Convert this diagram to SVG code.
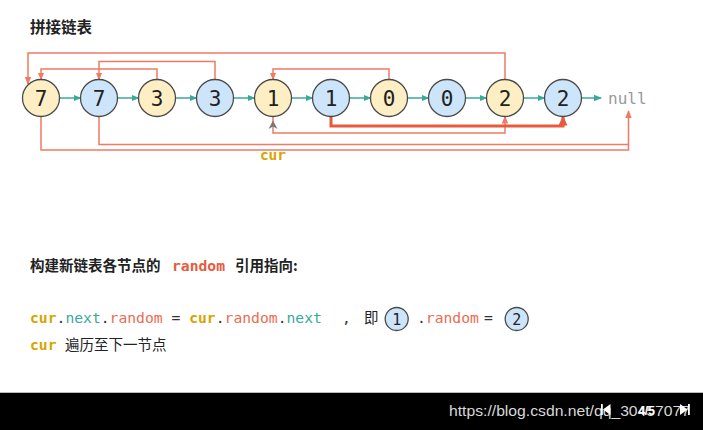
<svg xmlns="http://www.w3.org/2000/svg" width="703" height="430" viewBox="0 0 703 430">
<defs>
<style>
.nd{stroke:#4a4a4a;stroke-width:1.3}
.y{fill:#fdefc3}
.b{fill:#cde5fb}
.num{font-family:"DejaVu Sans Mono",monospace;font-size:21px;fill:#222;text-anchor:middle}
.nx{stroke:#3aa99a;stroke-width:1.5;fill:none;marker-end:url(#tealA)}
.rd{stroke:#f07a62;stroke-width:1.5;fill:none}
.rdt{stroke:#e85a3e;stroke-width:3;fill:none}
.cn{font-family:"Noto Sans CJK SC",sans-serif;font-size:14.5px;fill:#222}
.mono{font-family:"DejaVu Sans Mono",monospace;font-size:14.7px;fill:#333}
.gold{fill:#d9a400;font-weight:bold}
.teal{fill:#3aa99a}
.red{fill:#ec6b51}
</style>
<marker id="tealA" viewBox="0 0 8 8" refX="7" refY="4" markerWidth="8" markerHeight="8" markerUnits="userSpaceOnUse" orient="auto">
<path d="M0,0.8 L8,4 L0,7.2 Z" fill="#3aa99a"/>
</marker>
<marker id="redA" viewBox="0 0 8 8" refX="7" refY="4" markerWidth="8" markerHeight="8" markerUnits="userSpaceOnUse" orient="auto">
<path d="M0,0.8 L8,4 L0,7.2 Z" fill="#f07a62"/>
</marker>
<marker id="redT" viewBox="0 0 10 10" refX="9" refY="5" markerWidth="10" markerHeight="10" markerUnits="userSpaceOnUse" orient="auto">
<path d="M0,0.5 L10,5 L0,9.5 Z" fill="#e85a3e"/>
</marker>
</defs>
<rect width="703" height="430" fill="#fff"/>
<text x="30" y="33" font-family="'Noto Sans CJK SC',sans-serif" font-size="15.5" font-weight="bold" fill="#222">拼接链表</text>

<g id="connectors">
<line class="nx" x1="59.5" y1="98" x2="80.5" y2="98"/>
<line class="nx" x1="117.5" y1="98" x2="138.5" y2="98"/>
<line class="nx" x1="175.5" y1="98" x2="196.5" y2="98"/>
<line class="nx" x1="233.5" y1="98" x2="254.5" y2="98"/>
<line class="nx" x1="291.5" y1="98" x2="312.5" y2="98"/>
<line class="nx" x1="349.5" y1="98" x2="370.5" y2="98"/>
<line class="nx" x1="407.5" y1="98" x2="428.5" y2="98"/>
<line class="nx" x1="465.5" y1="98" x2="486.5" y2="98"/>
<line class="nx" x1="523.5" y1="98" x2="544.5" y2="98"/>
<line class="nx" x1="581.5" y1="98" x2="601" y2="98"/>
<path class="rd" d="M505,79.5 V53 H28 V84" marker-end="url(#redA)"/>
<path class="rd" d="M215,79.5 V61.5 H99 V79.5" marker-end="url(#redA)"/>
<path class="rd" d="M157,79.5 V69 H41 V79.5" marker-end="url(#redA)"/>
<path class="rd" d="M389,79.5 V69 H273 V79.5" marker-end="url(#redA)"/>
<path class="rd" d="M41,116.5 V150 H628.5 V111" marker-end="url(#redA)"/>
<path class="rd" d="M99,116.5 V144.5 H628.5"/>
<path class="rd" d="M273,116.5 V133 H505 V116.5" marker-end="url(#redA)"/>
<path class="rdt" d="M331,116.5 V126 H563 V116.5" marker-end="url(#redT)"/>
</g>

<g id="n0"><circle class="nd y" cx="41" cy="98" r="18.5"/><text class="num" x="41" y="105.5">7</text></g>
<g id="n1"><circle class="nd b" cx="99" cy="98" r="18.5"/><text class="num" x="99" y="105.5">7</text></g>
<g id="n2"><circle class="nd y" cx="157" cy="98" r="18.5"/><text class="num" x="157" y="105.5">3</text></g>
<g id="n3"><circle class="nd b" cx="215" cy="98" r="18.5"/><text class="num" x="215" y="105.5">3</text></g>
<g id="n4"><circle class="nd y" cx="273" cy="98" r="18.5"/><text class="num" x="273" y="105.5">1</text></g>
<g id="n5"><circle class="nd b" cx="331" cy="98" r="18.5"/><text class="num" x="331" y="105.5">1</text></g>
<g id="n6"><circle class="nd y" cx="389" cy="98" r="18.5"/><text class="num" x="389" y="105.5">0</text></g>
<g id="n7"><circle class="nd b" cx="447" cy="98" r="18.5"/><text class="num" x="447" y="105.5">0</text></g>
<g id="n8"><circle class="nd y" cx="505" cy="98" r="18.5"/><text class="num" x="505" y="105.5">2</text></g>
<g id="n9"><circle class="nd b" cx="563" cy="98" r="18.5"/><text class="num" x="563" y="105.5">2</text></g>
<g id="null"><text x="608" y="103.5" font-family="'DejaVu Sans Mono',monospace" font-size="16" fill="#999">null</text></g>

<g id="cur">
<path d="M273,120.5 L277.5,129 L273,126.5 L268.5,129 Z" fill="#777"/>
<text x="273" y="159.5" text-anchor="middle" font-family="'DejaVu Sans Mono',monospace" font-size="14.5" font-weight="bold" fill="#d9a400">cur</text>
</g>

<text class="cn" x="30" y="271" font-weight="bold">构建新链表各节点的</text>
<text class="mono" x="172" y="271" font-weight="bold" fill="#e85a3e" style="fill:#e85a3e">random</text>
<text class="cn" x="235" y="271" font-weight="bold">引用指向:</text>

<text class="mono" x="30" y="323"><tspan class="gold">cur</tspan>.<tspan class="teal">next</tspan>.<tspan class="red">random</tspan> = <tspan class="gold">cur</tspan>.<tspan class="red">random</tspan>.<tspan class="teal">next</tspan></text>
<text class="mono" x="342" y="323">,</text>
<text class="cn" x="364" y="323">即</text>
<g id="c1"><circle class="nd b" cx="396.7" cy="319" r="11.5"/><text x="396.7" y="324.5" text-anchor="middle" font-family="'DejaVu Sans Mono',monospace" font-size="15" fill="#222">1</text></g>
<text class="mono" x="417" y="323">.<tspan class="red">random</tspan></text>
<text class="mono" x="484" y="323">=</text>
<g id="c2"><circle class="nd b" cx="516.7" cy="319" r="11.5"/><text x="516.7" y="324.5" text-anchor="middle" font-family="'DejaVu Sans Mono',monospace" font-size="15" fill="#222">2</text></g>

<text class="mono" x="30" y="350"><tspan class="gold">cur</tspan></text>
<text class="cn" x="65" y="350">遍历至下一节点</text>

<line x1="0" y1="392.5" x2="703" y2="392.5" stroke="#bbb" stroke-width="1"/>
<rect x="0" y="393" width="703" height="37" fill="#000"/>
<text x="449" y="416" font-family="'Liberation Sans',Arial,sans-serif" font-size="15.5" fill="#d8d8d8" textLength="241" lengthAdjust="spacingAndGlyphs">https://blog.csdn.net/qq_30457077</text>
<rect x="601" y="404" width="1.8" height="11" fill="#fff"/>
<path d="M610.5,404 L603,409.5 L610.5,415 Z" fill="#fff"/>
<text x="646.5" y="414.5" text-anchor="middle" font-family="'Liberation Sans',Arial,sans-serif" font-size="12" font-weight="bold" fill="#fff">4/5</text>
<path d="M680,404 L687.5,409.5 L680,415 Z" fill="#fff"/>
<rect x="688" y="404" width="1.8" height="11" fill="#fff"/>
</svg>
